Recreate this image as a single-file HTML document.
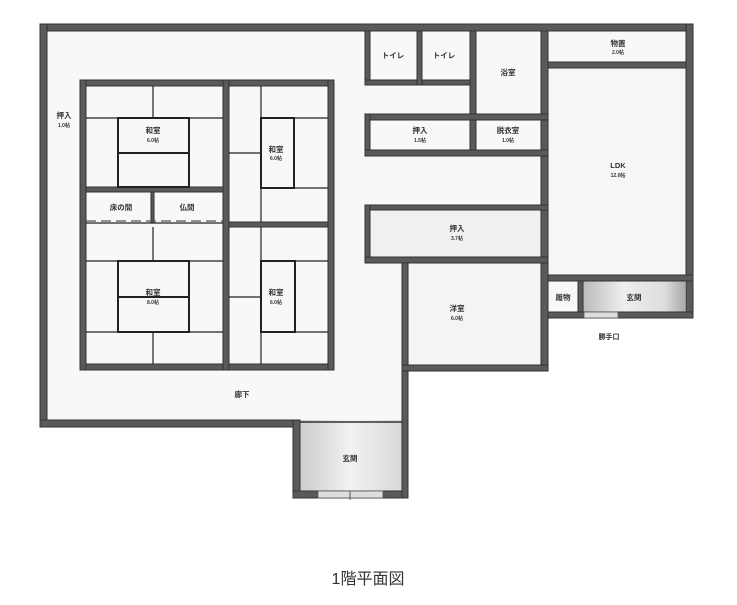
<!DOCTYPE html>
<html><head><meta charset="utf-8"><style>
html,body{margin:0;padding:0;background:#fff;}
svg text{font-family:"Liberation Sans","Noto Sans CJK JP",sans-serif;font-weight:bold;fill:#333;text-anchor:middle;}
</style></head><body>
<svg width="737" height="600" viewBox="0 0 737 600" xmlns="http://www.w3.org/2000/svg">
<defs>
<linearGradient id="g1" x1="0" x2="1"><stop offset="0" stop-color="#bbb"/><stop offset="0.4" stop-color="#eee"/><stop offset="0.8" stop-color="#ddd"/><stop offset="1" stop-color="#aaa"/></linearGradient>
<linearGradient id="g2" x1="0" x2="1"><stop offset="0" stop-color="#ccc"/><stop offset="0.5" stop-color="#f2f2f2"/><stop offset="1" stop-color="#d8d8d8"/></linearGradient>
</defs>
<rect width="737" height="600" fill="#fff"/>
<!-- floor fill -->
<polygon points="46,30 686,30 686,312 548,312 548,365 405,365 405,420 46,420" fill="#f8f8f8"/>
<rect x="300" y="420" width="102" height="72" fill="url(#g2)"/>
<rect x="583" y="281" width="102" height="31" fill="url(#g1)"/>
<rect x="370" y="210" width="171" height="47" fill="#f0f0f0"/>
<rect x="408" y="263" width="133" height="102" fill="#f4f4f4"/>
<rect x="548" y="68" width="137" height="207" fill="#f6f6f6"/>
<g fill="#5a5a5a" stroke="#333" stroke-width="1">
<rect x="40" y="24" width="653" height="7"/>
<rect x="40" y="24" width="7" height="403"/>
<rect x="40" y="420" width="260" height="7"/>
<rect x="293" y="420" width="7" height="78"/>
<rect x="293" y="491" width="115" height="7"/>
<rect x="402" y="262" width="6" height="236"/>
<rect x="686" y="24" width="7" height="294"/>
<rect x="80" y="80" width="254" height="6"/>
<rect x="80" y="364" width="254" height="6"/>
<rect x="80" y="80" width="6" height="290"/>
<rect x="328" y="80" width="6" height="290"/>
<rect x="223" y="80" width="6" height="290"/>
<rect x="86" y="187" width="137" height="5"/>
<rect x="229" y="222" width="99" height="5"/>
<rect x="151" y="192" width="3" height="31"/>
<rect x="365" y="31" width="5" height="54"/>
<rect x="365" y="80" width="111" height="5"/>
<rect x="417" y="31" width="5" height="54"/>
<rect x="470" y="31" width="6" height="125"/>
<rect x="541" y="31" width="7" height="340"/>
<rect x="476" y="114" width="65" height="6"/>
<rect x="365" y="114" width="183" height="6"/>
<rect x="365" y="114" width="5" height="42"/>
<rect x="365" y="150" width="183" height="6"/>
<rect x="548" y="62" width="138" height="6"/>
<rect x="365" y="205" width="183" height="5"/>
<rect x="365" y="205" width="5" height="58"/>
<rect x="365" y="257" width="183" height="6"/>
<rect x="402" y="365" width="146" height="6"/>
<rect x="548" y="275" width="145" height="6"/>
<rect x="578" y="281" width="5" height="31"/>
<rect x="548" y="312" width="145" height="6"/>
</g>
<line x1="300" y1="422" x2="402" y2="422" stroke="#333" stroke-width="1.5"/>
<rect x="318" y="491" width="65" height="7" fill="#ddd" stroke="#555" stroke-width="0.8"/>
<line x1="350" y1="491" x2="350" y2="500" stroke="#555"/>
<rect x="584" y="312" width="34" height="6" fill="#ddd" stroke="#555" stroke-width="0.8"/>
<g stroke="#222" stroke-width="1.2" fill="none">
<line x1="86" y1="118" x2="223" y2="118"/>
<line x1="153" y1="86" x2="153" y2="118"/>
<rect x="118" y="118" width="71" height="69" stroke-width="2"/>
<line x1="118" y1="153" x2="189" y2="153" stroke-width="2"/>
<line x1="86" y1="261" x2="223" y2="261"/>
<line x1="153" y1="227" x2="153" y2="261"/>
<line x1="86" y1="332" x2="223" y2="332"/>
<line x1="153" y1="332" x2="153" y2="364"/>
<rect x="118" y="261" width="71" height="71" stroke-width="2"/>
<line x1="118" y1="297" x2="189" y2="297" stroke-width="2"/>
<line x1="261" y1="86" x2="261" y2="222"/>
<line x1="229" y1="153" x2="261" y2="153"/>
<line x1="261" y1="118" x2="328" y2="118"/>
<line x1="261" y1="188" x2="328" y2="188"/>
<rect x="261" y="118" width="33" height="70" stroke-width="2"/>
<line x1="261" y1="227" x2="261" y2="364"/>
<line x1="229" y1="297" x2="261" y2="297"/>
<line x1="261" y1="261" x2="328" y2="261"/>
<line x1="261" y1="332" x2="328" y2="332"/>
<rect x="261" y="261" width="34" height="71" stroke-width="2"/>
<line x1="86" y1="223" x2="223" y2="223"/>
<line x1="86" y1="221" x2="223" y2="221" stroke-dasharray="10,5" stroke="#555"/>
</g>
<g font-size="7.5">
<text x="64" y="118">押入</text><text x="64" y="127" font-size="5">1.0帖</text>
<text x="153" y="133">和室</text><text x="153" y="142" font-size="5">6.0帖</text>
<text x="276" y="152">和室</text><text x="276" y="160" font-size="5">6.0帖</text>
<text x="121" y="210">床の間</text><text x="187" y="210">仏間</text>
<text x="153" y="295">和室</text><text x="153" y="304" font-size="5">8.0帖</text>
<text x="276" y="295">和室</text><text x="276" y="304" font-size="5">6.0帖</text>
<text x="393" y="58">トイレ</text><text x="444" y="58">トイレ</text>
<text x="508" y="75">浴室</text>
<text x="420" y="133">押入</text><text x="420" y="142" font-size="5">1.5帖</text>
<text x="508" y="133">脱衣室</text><text x="508" y="142" font-size="5">1.0帖</text>
<text x="618" y="46">物置</text><text x="618" y="54" font-size="5">2.0帖</text>
<text x="618" y="168">LDK</text><text x="618" y="177" font-size="5">12.0帖</text>
<text x="457" y="231">押入</text><text x="457" y="240" font-size="5">3.7帖</text>
<text x="457" y="311">洋室</text><text x="457" y="320" font-size="5">6.0帖</text>
<text x="563" y="300">履物</text><text x="634" y="300">玄関</text>
<text x="609" y="339" font-size="7">勝手口</text>
<text x="242" y="397">廊下</text>
<text x="350" y="461">玄関</text>
</g>
<text x="368" y="584" font-size="16" style="font-weight:normal">1階平面図</text>
</svg>
</body></html>
